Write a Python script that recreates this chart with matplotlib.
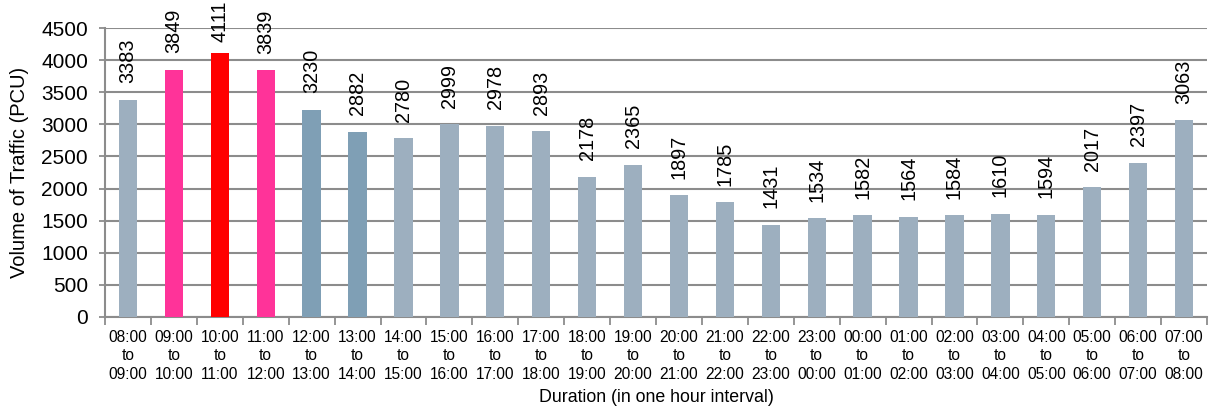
import matplotlib
matplotlib.use("Agg")
import matplotlib.pyplot as plt

plt.rcParams['font.family'] = ['Liberation Sans', 'DejaVu Sans']

hours = ["08:00", "09:00", "10:00", "11:00", "12:00", "13:00", "14:00", "15:00",
         "16:00", "17:00", "18:00", "19:00", "20:00", "21:00", "22:00", "23:00",
         "00:00", "01:00", "02:00", "03:00", "04:00", "05:00", "06:00", "07:00"]
ends = hours[1:] + hours[:1]
labels = [f"{a}\nto\n{b}" for a, b in zip(hours, ends)]
volumes = [3383, 3849, 4111, 3839, 3230, 2882, 2780, 2999, 2978, 2893, 2178, 2365,
           1897, 1785, 1431, 1534, 1582, 1564, 1584, 1610, 1594, 2017, 2397, 3063]

grey = "#9DAFBF"
steel = "#7F9FB5"
pink = "#FF3399"
red = "#FF0000"
colors = [grey, pink, red, pink, steel, steel] + [grey] * 18

fig = plt.figure(figsize=(12.09, 4.12), dpi=100)
ax = fig.add_axes([105 / 1209, 1 - 317 / 412, (1207 - 105) / 1209, (317 - 28) / 412])

x = list(range(len(volumes)))
ax.bar(x, volumes, width=0.4, color=colors, zorder=3)

ax.set_xlim(-0.5, len(volumes) - 0.5)
ax.set_ylim(0, 4500)
ax.set_yticks(range(0, 4501, 500))
ax.tick_params(axis='y', labelsize=15, length=4.3, width=1.3, color="#8C8C8C", pad=8)
ax.yaxis.grid(True, color="#8C8C8C", linewidth=1.5, zorder=0)
ax.set_axisbelow(True)

ax.set_xticks(x)
ax.set_xticklabels(labels, fontsize=11.2, linespacing=1.3)
ax.tick_params(axis='x', length=0, pad=9)
ax.set_xticks([i - 0.5 for i in range(len(volumes) + 1)], minor=True)
ax.tick_params(axis='x', which='minor', length=6, width=1.3, color="#8C8C8C")

for s in ['top', 'right']:
    ax.spines[s].set_visible(False)
for s in ['left', 'bottom']:
    ax.spines[s].set_color("#8C8C8C")
    ax.spines[s].set_linewidth(1.5)

ax.set_ylabel("Volume of Traffic (PCU)", fontsize=14.5, labelpad=9)
ax.set_xlabel("Duration (in one hour interval)", fontsize=12.8, labelpad=5)

# value labels above bars, kept inside the figure
texts = []
for xi, v in zip(x, volumes):
    t = ax.annotate(str(v), (xi, v), xytext=(0, 12), textcoords="offset points",
                    rotation=90, ha="center", va="bottom", fontsize=14.3,
                    annotation_clip=False, zorder=4)
    texts.append(t)

fig.canvas.draw()
renderer = fig.canvas.get_renderer()
fig_h = fig.bbox.height
for t in texts:
    bb = t.get_window_extent(renderer)
    if bb.y1 > fig_h - 1:
        shift = (bb.y1 - (fig_h - 1)) * 72 / fig.dpi
        ox, oy = t.xyann
        t.xyann = (ox, oy - shift)

fig.savefig("out.png", dpi=100)
